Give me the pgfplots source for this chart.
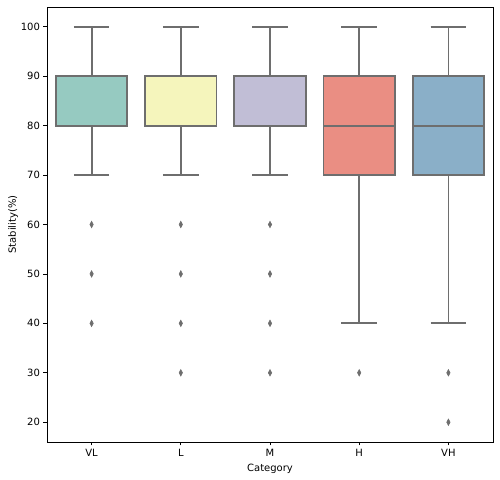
\documentclass[border=0pt]{standalone}
\usepackage{fontspec}
\setmainfont{DejaVu Sans}
\usepackage{pgfplots}
\pgfplotsset{compat=1.18}
\usepgfplotslibrary{statistics}

\definecolor{cVL}{HTML}{96CAC1}
\definecolor{cL}{HTML}{F5F5BC}
\definecolor{cM}{HTML}{C1BED6}
\definecolor{cH}{HTML}{EA8E83}
\definecolor{cVH}{HTML}{8AAFC8}
\definecolor{lgray}{HTML}{6E6E6E}

\pgfplotsset{
  sbox/.style={
    boxplot/draw direction=y,
    draw=lgray, line width=1.8pt,
    mark=diamond*,
    mark options={draw=lgray, fill=lgray, line width=0.6pt, xscale=0.7},
    mark size=3.2pt,
    boxplot/box extend=0.8,
    boxplot/whisker extend=0.4,
    boxplot/every box/.style={draw=lgray, line width=1.8pt},
    boxplot/every whisker/.style={draw=lgray, line width=1.8pt},
    boxplot/every median/.style={draw=lgray, line width=1.8pt},
  }
}

\begin{document}
\begin{tikzpicture}
\begin{axis}[
  scale only axis,
  width=446pt, height=435pt,
  xmin=-0.5, xmax=4.5,
  ymin=16, ymax=104,
  xtick={0,1,2,3,4},
  xticklabels={VL,L,M,H,VH},
  ytick={20,30,...,100},
  tick pos=left,
  tick align=outside,
  major tick length=3.5pt,
  tick style={black, line width=0.8pt},
  axis line style={line width=0.8pt},
  font=\fontsize{10}{12}\selectfont,
  ticklabel style={font=\fontsize{10}{12}\selectfont},
  /pgf/number format/assume math mode=true,
  xlabel={Category},
  ylabel={Stability(\%)},
  xlabel style={yshift=-1pt},
  ylabel style={yshift=-4pt},
]
% VL
\addplot[sbox, fill=cVL, boxplot prepared={draw position=0,
  lower whisker=70, lower quartile=80, median=80, upper quartile=90, upper whisker=100}]
  coordinates {(0,60) (0,50) (0,40)};
% L
\addplot[sbox, fill=cL, boxplot prepared={draw position=1,
  lower whisker=70, lower quartile=80, median=80, upper quartile=90, upper whisker=100}]
  coordinates {(0,60) (0,50) (0,40) (0,30)};
% M
\addplot[sbox, fill=cM, boxplot prepared={draw position=2,
  lower whisker=70, lower quartile=80, median=80, upper quartile=90, upper whisker=100}]
  coordinates {(0,60) (0,50) (0,40) (0,30)};
% H
\addplot[sbox, fill=cH, boxplot prepared={draw position=3,
  lower whisker=40, lower quartile=70, median=80, upper quartile=90, upper whisker=100}]
  coordinates {(0,30)};
% VH
\addplot[sbox, fill=cVH, boxplot prepared={draw position=4,
  lower whisker=40, lower quartile=70, median=80, upper quartile=90, upper whisker=100}]
  coordinates {(0,30) (0,20)};
\end{axis}
\pgfresetboundingbox
\useasboundingbox ([shift={(-47pt,-38pt)}]current axis.south west)
  rectangle ([shift={(7pt,7pt)}]current axis.north east);
\end{tikzpicture}
\end{document}
